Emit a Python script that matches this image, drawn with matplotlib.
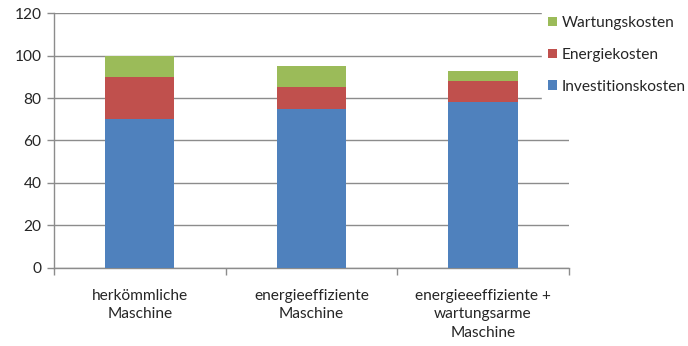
import matplotlib
matplotlib.use("Agg")
import matplotlib.pyplot as plt
import numpy as np

plt.rcParams['font.family'] = ['Lato', 'DejaVu Sans']

maschinen = ["herkömmliche\nMaschine",
             "energieeffiziente\nMaschine",
             "energieeeffiziente +\nwartungsarme\nMaschine"]
investitionskosten = [70, 75, 78]
energiekosten = [20, 10, 10]
wartungskosten = [10, 10, 5]

blau = "#4F81BD"
rot = "#C0504D"
gruen = "#9BBB59"
grau = "#8C8C8C"
textfarbe = "#262626"
schrift = 11.2

fig = plt.figure(figsize=(6.88, 3.46), dpi=100)
ax = fig.add_axes([0.0785, 0.2263, 0.7481, 0.7353])

x = np.arange(len(maschinen))
breite = 0.404
unten2 = np.array(investitionskosten)
unten3 = unten2 + np.array(energiekosten)

ax.bar(x, investitionskosten, breite, color=blau, label="Investitionskosten", zorder=3)
ax.bar(x, energiekosten, breite, bottom=unten2, color=rot, label="Energiekosten", zorder=3)
ax.bar(x, wartungskosten, breite, bottom=unten3, color=gruen, label="Wartungskosten", zorder=3)

ax.set_xlim(-0.5, len(maschinen) - 0.5)
ax.set_ylim(0, 120)
ax.set_yticks(range(0, 121, 20))
ax.yaxis.grid(True, color=grau, linewidth=1.0, zorder=0)

for s in ["top", "right"]:
    ax.spines[s].set_visible(False)
for s in ["left", "bottom"]:
    ax.spines[s].set_color(grau)
    ax.spines[s].set_linewidth(1.0)

ax.set_xticks(x)
ax.set_xticklabels(maschinen, linespacing=1.45)
ax.set_xticks(np.arange(-0.5, len(maschinen), 1.0), minor=True)
ax.tick_params(axis="x", which="major", length=0, pad=15, labelsize=schrift, labelcolor=textfarbe)
ax.tick_params(axis="x", which="minor", length=5, width=1.0, color=grau, direction="out")
ax.tick_params(axis="y", length=5, width=1.0, color=grau, pad=4, labelsize=schrift, labelcolor=textfarbe)

handles, labels = ax.get_legend_handles_labels()
leg = ax.legend(handles[::-1], labels[::-1], loc="upper left",
                bbox_to_anchor=(0.933, 1.045), frameon=True, fancybox=False,
                edgecolor="white", facecolor="white", framealpha=1.0,
                handlelength=0.55, handleheight=0.55, handletextpad=0.3,
                labelspacing=1.15, borderpad=0.4, fontsize=schrift,
                labelcolor=textfarbe)

fig.savefig("out.png", dpi=100)
